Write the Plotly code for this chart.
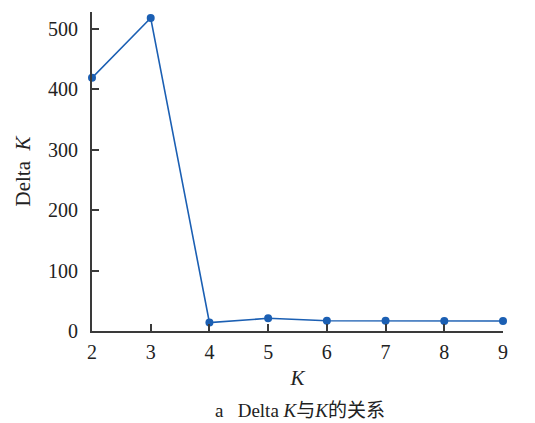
import plotly.graph_objects as go

k_values = [2, 3, 4, 5, 6, 7, 8, 9]
delta_k = [419, 518, 14, 21, 17, 17, 16.5, 16.5]
y_ticks = [0, 100, 200, 300, 400, 500]

FONT = "Liberation Serif, Times New Roman, Noto Sans CJK SC, serif"
BLUE = "#1b5fb3"
AX = "#3a3a3a"

fig = go.Figure()
fig.add_trace(go.Scatter(
    x=k_values, y=delta_k, mode="lines+markers",
    line=dict(color=BLUE, width=1.6),
    marker=dict(color=BLUE, size=8),
    cliponaxis=False, showlegend=False,
))

fig.update_layout(
    width=535, height=423,
    margin=dict(l=92, r=32, t=12, b=92),
    paper_bgcolor="white", plot_bgcolor="white",
    font=dict(family=FONT, size=20, color="#222"),
    xaxis=dict(
        range=[2, 9], tickmode="array", tickvals=k_values,
        ticks="inside", ticklen=7, tickcolor=AX, tickwidth=1.5,
        showline=True, linecolor=AX, linewidth=1.8, showgrid=False, zeroline=False,
        ticklabelstandoff=2,
        title=dict(text="<i>K</i>", font=dict(size=21), standoff=8),
    ),
    yaxis=dict(
        range=[0, 528], tickmode="array", tickvals=y_ticks,
        ticks="inside", ticklen=7, tickcolor=AX, tickwidth=1.5,
        showline=True, linecolor=AX, linewidth=1.8, showgrid=False, zeroline=False,
        ticklabelstandoff=8,
        title=dict(text="Delta  <i>K</i>", font=dict(size=21), standoff=12),
    ),
    annotations=[dict(
        text="a   Delta <i>K</i>与<i>K</i>的关系", xref="paper", yref="paper",
        x=0.505, y=-0.25, xanchor="center", yanchor="middle", showarrow=False,
        font=dict(family=FONT, size=19, color="#222"),
    )],
)

fig.write_html("out.html", config={"displayModeBar": False},
               post_script="document.body.style.margin='0';document.body.style.padding='0';")
